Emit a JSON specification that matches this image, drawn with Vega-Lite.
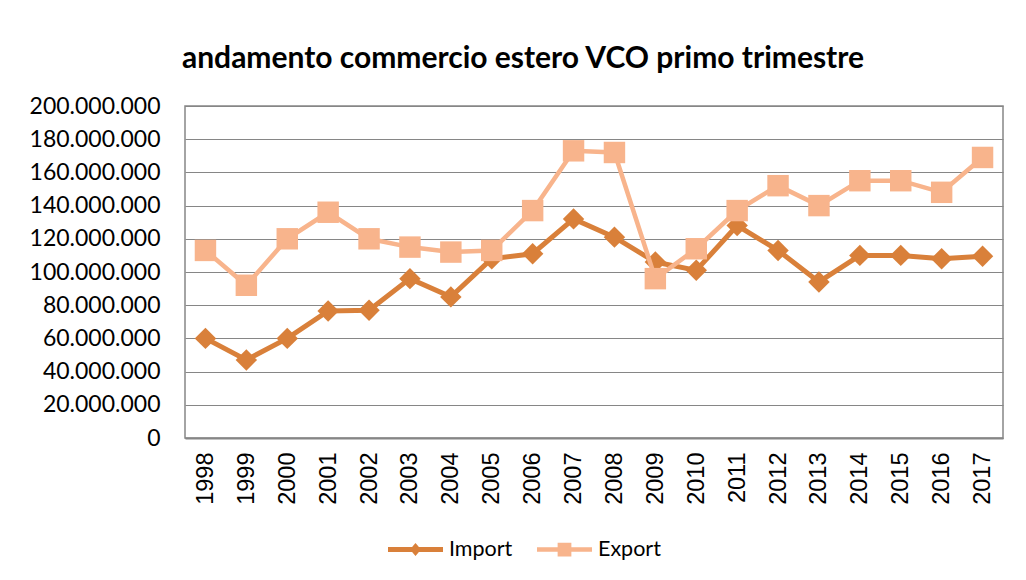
{
  "$schema": "https://vega.github.io/schema/vega-lite/v6.json",
  "width": 818,
  "height": 332,
  "autosize": {"type": "none"},
  "padding": {"left": 185, "top": 106, "right": 23, "bottom": 142},
  "background": "white",
  "config": {
    "locale": {"number": {"decimal": ",", "thousands": ".", "grouping": [3], "currency": ["", " €"]}},
    "view": {"stroke": "#868686", "strokeWidth": 1.5},
    "font": "Lato",
    "legend": {
      "orient": "none",
      "legendX": 203,
      "legendY": 416,
      "direction": "horizontal",
      "symbolSize": 3025,
      "symbolStrokeWidth": 0,
      "labelFontSize": 21.5,
      "labelFont": "Lato",
      "labelColor": "#000000",
      "labelOffset": 6,
      "columnPadding": 24
    }
  },
  "title": {
    "text": "andamento commercio estero VCO primo trimestre",
    "fontSize": 30,
    "fontWeight": "bold",
    "font": "Lato",
    "color": "#000000",
    "anchor": "middle",
    "dx": -71,
    "offset": 21
  },
  "data": {
    "values": [
      {"year": "1998", "series": "Import", "value": 60000000},
      {"year": "1999", "series": "Import", "value": 47000000},
      {"year": "2000", "series": "Import", "value": 60000000},
      {"year": "2001", "series": "Import", "value": 76500000},
      {"year": "2002", "series": "Import", "value": 77000000},
      {"year": "2003", "series": "Import", "value": 96000000},
      {"year": "2004", "series": "Import", "value": 85000000},
      {"year": "2005", "series": "Import", "value": 108000000},
      {"year": "2006", "series": "Import", "value": 111000000},
      {"year": "2007", "series": "Import", "value": 132000000},
      {"year": "2008", "series": "Import", "value": 121000000},
      {"year": "2009", "series": "Import", "value": 106000000},
      {"year": "2010", "series": "Import", "value": 101000000},
      {"year": "2011", "series": "Import", "value": 128000000},
      {"year": "2012", "series": "Import", "value": 113000000},
      {"year": "2013", "series": "Import", "value": 94000000},
      {"year": "2014", "series": "Import", "value": 110000000},
      {"year": "2015", "series": "Import", "value": 110000000},
      {"year": "2016", "series": "Import", "value": 108000000},
      {"year": "2017", "series": "Import", "value": 109500000},
      {"year": "1998", "series": "Export", "value": 113000000},
      {"year": "1999", "series": "Export", "value": 92000000},
      {"year": "2000", "series": "Export", "value": 120000000},
      {"year": "2001", "series": "Export", "value": 136000000},
      {"year": "2002", "series": "Export", "value": 120000000},
      {"year": "2003", "series": "Export", "value": 115000000},
      {"year": "2004", "series": "Export", "value": 112000000},
      {"year": "2005", "series": "Export", "value": 113000000},
      {"year": "2006", "series": "Export", "value": 137000000},
      {"year": "2007", "series": "Export", "value": 173000000},
      {"year": "2008", "series": "Export", "value": 172000000},
      {"year": "2009", "series": "Export", "value": 96000000},
      {"year": "2010", "series": "Export", "value": 114000000},
      {"year": "2011", "series": "Export", "value": 137000000},
      {"year": "2012", "series": "Export", "value": 152000000},
      {"year": "2013", "series": "Export", "value": 140000000},
      {"year": "2014", "series": "Export", "value": 155000000},
      {"year": "2015", "series": "Export", "value": 155000000},
      {"year": "2016", "series": "Export", "value": 148000000},
      {"year": "2017", "series": "Export", "value": 169000000}
    ]
  },
  "encoding": {
    "x": {
      "field": "year",
      "type": "ordinal",
      "axis": {
        "title": null,
        "labelAngle": -90,
        "labelFont": "Liberation Sans",
        "labelFontSize": 23.5,
        "labelColor": "#000000",
        "labelPadding": 14,
        "ticks": false,
        "domainColor": "#868686",
        "domainWidth": 2
      }
    },
    "y": {
      "field": "value",
      "type": "quantitative",
      "scale": {"domain": [0, 200000000], "nice": false},
      "axis": {
        "title": null,
        "values": [0, 20000000, 40000000, 60000000, 80000000, 100000000, 120000000, 140000000, 160000000, 180000000, 200000000],
        "format": ",.0f",
        "labelFont": "Lato",
        "labelFontSize": 23,
        "labelColor": "#000000",
        "labelPadding": 25,
        "ticks": false,
        "domain": false,
        "gridColor": "#868686",
        "gridWidth": 1.2
      }
    },
    "color": {
      "field": "series",
      "type": "nominal",
      "scale": {"domain": ["Import", "Export"], "range": ["#D9803A", "#F8B48C"]},
      "legend": {"title": null}
    }
  },
  "layer": [
    {
      "transform": [{"filter": "datum.series === 'Import'"}],
      "mark": {"type": "line", "strokeWidth": 5}
    },
    {
      "transform": [{"filter": "datum.series === 'Import'"}],
      "mark": {"type": "point", "shape": "diamond", "filled": true, "opacity": 1, "size": 460}
    },
    {
      "transform": [{"filter": "datum.series === 'Export'"}],
      "mark": {"type": "line", "strokeWidth": 4.5}
    },
    {
      "transform": [{"filter": "datum.series === 'Export'"}],
      "mark": {"type": "point", "shape": "square", "filled": true, "opacity": 1, "size": 460}
    },
    {
      "transform": [{"filter": "false"}],
      "mark": {"type": "point", "filled": true, "opacity": 1},
      "encoding": {
        "shape": {
          "field": "series",
          "type": "nominal",
          "scale": {
            "domain": ["Import", "Export"],
            "range": [
              "M-1,-0.09L1,-0.09L1,0.09L-1,0.09Z M0,-0.24L0.2,0L0,0.24L-0.2,0Z",
              "M-1,-0.08L1,-0.08L1,0.08L-1,0.08Z M-0.25,-0.25L0.25,-0.25L0.25,0.25L-0.25,0.25Z"
            ]
          },
          "legend": {"title": null}
        }
      }
    }
  ]
}
